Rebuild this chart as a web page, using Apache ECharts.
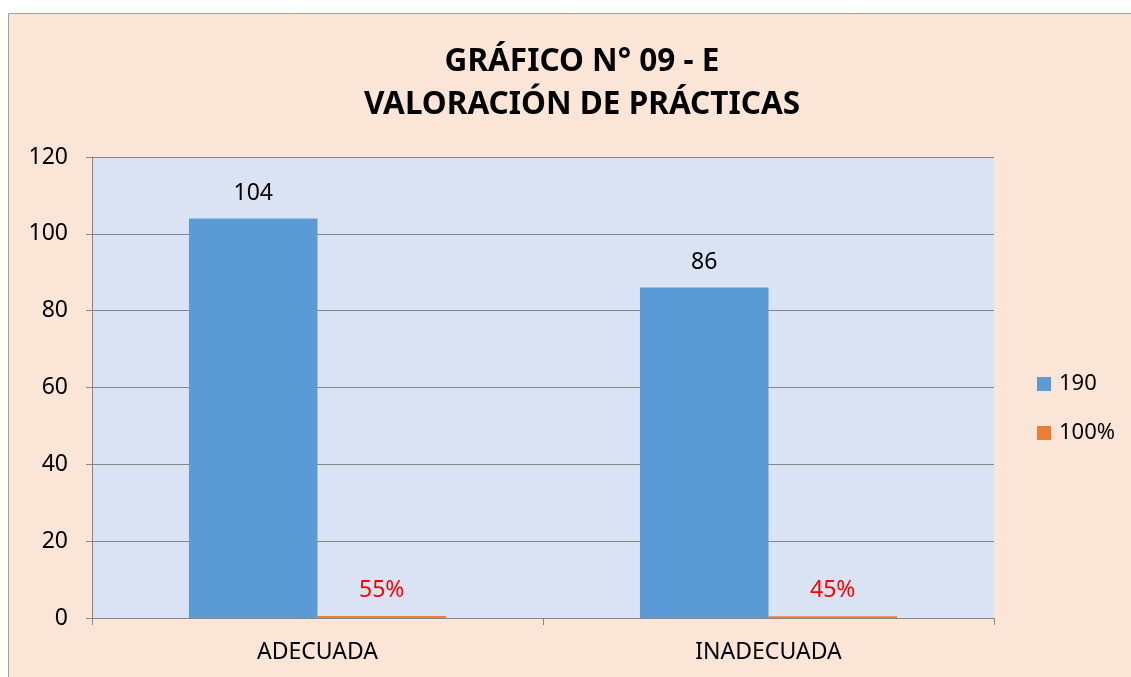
<!DOCTYPE html>
<html>
<head>
<meta charset="utf-8">
<script src="https://cdn.jsdelivr.net/npm/echarts@6/dist/echarts.min.js"></script>
<style>
  html, body { margin: 0; padding: 0; background: #fff; }
  #chart { width: 1131px; height: 677px; }
</style>
</head>
<body>
<div id="chart"></div>
<script>
// chart data
const categories = ["ADECUADA", "INADECUADA"];
const countName = "190";
const countValues = [104, 86];
const shareName = "100%";
const shareValues = [0.55, 0.45];
const yTicks = { min: 0, max: 120, interval: 20 };

const blue = "#5B9BD5";
const orange = "#ED7D31";
const axisGray = "#868686";
const font = "Noto Sans";

const chart = echarts.init(document.getElementById("chart"), null, { renderer: "canvas" });

const option = {
  backgroundColor: "#ffffff",
  animation: false,
  graphic: [
    {
      type: "rect",
      z: -10,
      shape: { x: 8.5, y: 13.5, width: 1200, height: 700 },
      style: { fill: "#FBE5D6", stroke: "#A0A0A0", lineWidth: 1 },
    },
  ],
  title: {
    text: "GRÁFICO N° 09 - E\nVALORACIÓN DE PRÁCTICAS",
    left: 577,
    top: 36,
    textAlign: "center",
    textStyle: {
      fontFamily: font,
      fontWeight: "bold",
      fontSize: 31.5,
      lineHeight: 43,
      color: "#000",
    },
  },
  legend: {
    orient: "vertical",
    left: 1037,
    top: 373,
    padding: 0,
    itemWidth: 14,
    itemHeight: 14,
    itemGap: 27,
    icon: "rect",
    textStyle: { fontFamily: font, fontSize: 22, color: "#000", padding: [0, 0, 0, 3] },
    data: [countName, shareName],
  },
  grid: {
    left: 92,
    top: 157,
    right: 137,
    bottom: 59,
    show: true,
    backgroundColor: "#DAE3F3",
    borderWidth: 0,
  },
  xAxis: {
    type: "category",
    data: categories,
    axisLine: { lineStyle: { color: axisGray } },
    axisTick: { show: true, length: 7, lineStyle: { color: axisGray } },
    axisLabel: { fontFamily: font, fontSize: 23, color: "#000", margin: 23 },
  },
  yAxis: {
    type: "value",
    min: yTicks.min,
    max: yTicks.max,
    interval: yTicks.interval,
    axisLine: { show: true, lineStyle: { color: axisGray } },
    axisTick: { show: true, length: 6, lineStyle: { color: axisGray } },
    axisLabel: { fontFamily: font, fontSize: 23, color: "#000", margin: 24 },
    splitLine: { lineStyle: { color: axisGray } },
  },
  series: [
    {
      name: countName,
      type: "bar",
      data: countValues,
      barGap: "0%",
      barCategoryGap: "43%",
      itemStyle: { color: blue },
      label: {
        show: true,
        position: "top",
        distance: 14,
        fontFamily: font,
        fontSize: 23,
        color: "#000",
      },
    },
    {
      name: shareName,
      type: "bar",
      data: shareValues,
      itemStyle: { color: orange },
      label: {
        show: true,
        position: "top",
        distance: 14,
        fontFamily: font,
        fontSize: 23,
        color: "#FF0000",
        formatter: (p) => Math.round(p.value * 100) + "%",
      },
    },
  ],
};

chart.setOption(option);
</script>
</body>
</html>
